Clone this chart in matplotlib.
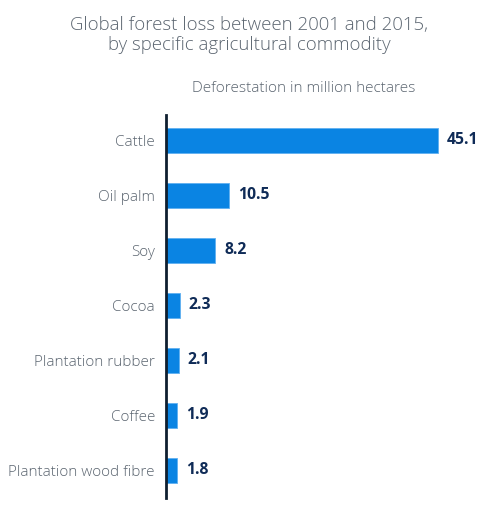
import matplotlib
matplotlib.use("Agg")
import matplotlib.pyplot as plt

# data
categories = ["Cattle", "Oil palm", "Soy", "Cocoa", "Plantation rubber",
              "Coffee", "Plantation wood fibre"]
values = [45.1, 10.5, 8.2, 2.3, 2.1, 1.9, 1.8]

plt.rcParams['font.family'] = ['Open Sans', 'DejaVu Sans']

fig = plt.figure(figsize=(4.94, 5.12), dpi=100)
fig.patch.set_facecolor('white')
ax = fig.add_axes([166 / 494, 14 / 512, 314 / 494, 383 / 512])

pos = list(range(len(categories)))
ax.barh(pos, values, height=0.46, color='#0a84e3', edgecolor='#5fb0f0', linewidth=0.6)

ax.set_xlim(0, 52.1)
ax.set_ylim(6.5, -0.46)

for p, v in zip(pos, values):
    ax.text(v + 1.5, p, f"{v:.1f}", va='center', ha='left', fontsize=11.3,
            fontweight='bold', color='#0f2b57')

ax.set_yticks(pos)
ax.set_yticklabels(categories, fontsize=11, color='#5b6570', fontweight='light')
ax.tick_params(axis='y', length=0, pad=8)
ax.set_xticks([])

for s in ['top', 'right', 'bottom']:
    ax.spines[s].set_visible(False)
ax.spines['left'].set_color('#0f1f30')
ax.spines['left'].set_linewidth(2)

fig.text(0.505, 0.968, "Global forest loss between 2001 and 2015,\nby specific agricultural commodity",
         ha='center', va='top', fontsize=13.4, color='#5b6570', linespacing=1.12,
         fontweight='light')
fig.text(0.614, 0.828, "Deforestation in million hectares", ha='center', va='center',
         fontsize=11.1, color='#5b6570', fontweight='light')

fig.savefig("out.png", dpi=100, facecolor='white')
